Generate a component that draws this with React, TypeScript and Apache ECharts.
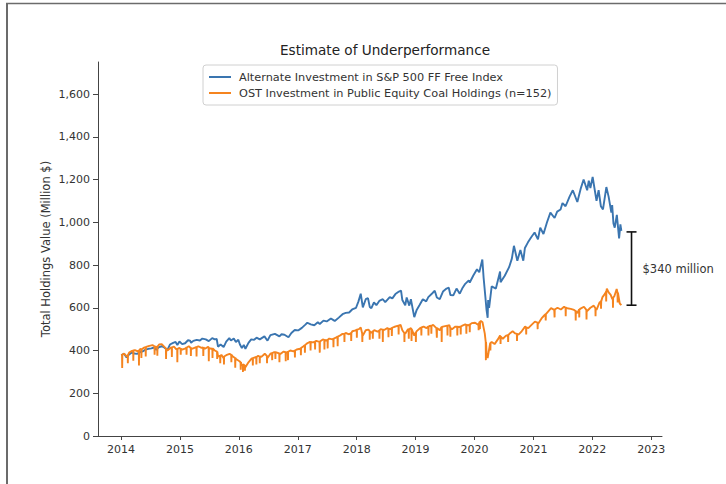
import React, { useEffect, useRef } from "react";
import * as echarts from "echarts";

const chartTitle = "Estimate of Underperformance";
const yAxisTitle = "Total Holdings Value (Million $)";
const altName = "Alternate Investment in S&P 500 FF Free Index";
const ostName = "OST Investment in Public Equity Coal Holdings (n=152)";
const yTickValues = [0, 200, 400, 600, 800, 1000, 1200, 1400, 1600];
const xTickYears = [2014, 2015, 2016, 2017, 2018, 2019, 2020, 2021, 2022, 2023];
const gapLabel = "$340 million";
const gapBar: [string, number, number] = ["2022-09-01", 612, 955];

const altSeries: [string, number][] = [
  ["2014-01-02", 378], ["2014-01-20", 385], ["2014-02-04", 368], ["2014-02-20", 382],
  ["2014-03-07", 390], ["2014-03-25", 386], ["2014-04-10", 384], ["2014-04-28", 392],
  ["2014-05-15", 396], ["2014-06-02", 404], ["2014-06-20", 408], ["2014-07-08", 410],
  ["2014-07-24", 414], ["2014-08-07", 403], ["2014-08-22", 415], ["2014-09-10", 420],
  ["2014-09-22", 416], ["2014-10-15", 402], ["2014-10-31", 428], ["2014-11-20", 436],
  ["2014-12-05", 440], ["2014-12-16", 426], ["2014-12-29", 442], ["2015-01-15", 430],
  ["2015-02-02", 434], ["2015-02-20", 448], ["2015-03-05", 446], ["2015-03-11", 436],
  ["2015-03-25", 445], ["2015-04-15", 450], ["2015-05-05", 447], ["2015-05-20", 456],
  ["2015-06-10", 452], ["2015-06-29", 444], ["2015-07-20", 458], ["2015-08-05", 452],
  ["2015-08-17", 454], ["2015-08-25", 418], ["2015-09-10", 428], ["2015-09-29", 416],
  ["2015-10-15", 442], ["2015-11-03", 458], ["2015-11-13", 447], ["2015-12-01", 456],
  ["2015-12-14", 440], ["2015-12-29", 450], ["2016-01-08", 428], ["2016-01-20", 412],
  ["2016-02-01", 426], ["2016-02-11", 408], ["2016-03-01", 436], ["2016-03-18", 452],
  ["2016-04-05", 450], ["2016-04-20", 460], ["2016-05-10", 452], ["2016-06-08", 466],
  ["2016-06-27", 446], ["2016-07-15", 472], ["2016-08-12", 478], ["2016-09-09", 466],
  ["2016-09-22", 476], ["2016-10-10", 474], ["2016-11-04", 462], ["2016-11-22", 482],
  ["2016-12-13", 496], ["2017-01-03", 494], ["2017-01-26", 506], ["2017-02-15", 520],
  ["2017-03-01", 530], ["2017-03-22", 522], ["2017-04-13", 518], ["2017-05-05", 532],
  ["2017-05-17", 524], ["2017-06-09", 540], ["2017-06-29", 536], ["2017-07-25", 550],
  ["2017-08-10", 542], ["2017-08-18", 538], ["2017-09-12", 554], ["2017-10-05", 570],
  ["2017-10-25", 576], ["2017-11-15", 578], ["2017-12-04", 592], ["2017-12-28", 600],
  ["2018-01-12", 630], ["2018-01-26", 666], ["2018-02-08", 602], ["2018-02-26", 640],
  ["2018-03-12", 645], ["2018-03-23", 604], ["2018-04-02", 598], ["2018-04-18", 625],
  ["2018-05-03", 612], ["2018-05-21", 632], ["2018-06-12", 640], ["2018-06-27", 626],
  ["2018-07-25", 650], ["2018-08-10", 644], ["2018-08-29", 664], ["2018-09-20", 676],
  ["2018-10-03", 680], ["2018-10-11", 636], ["2018-10-29", 612], ["2018-11-07", 648],
  ["2018-11-23", 610], ["2018-12-03", 640], ["2018-12-24", 556], ["2019-01-08", 590],
  ["2019-01-25", 612], ["2019-02-15", 640], ["2019-03-08", 630], ["2019-03-21", 650],
  ["2019-04-15", 668], ["2019-04-30", 680], ["2019-05-13", 648], ["2019-05-31", 640],
  ["2019-06-20", 676], ["2019-07-12", 690], ["2019-07-26", 694], ["2019-08-05", 660],
  ["2019-08-23", 658], ["2019-09-12", 690], ["2019-10-02", 666], ["2019-10-17", 690],
  ["2019-11-05", 712], ["2019-11-27", 728], ["2019-12-03", 718], ["2019-12-26", 752],
  ["2020-01-17", 780], ["2020-01-31", 766], ["2020-02-19", 826], ["2020-02-27", 740],
  ["2020-03-09", 650], ["2020-03-16", 590], ["2020-03-23", 553], ["2020-03-26", 636],
  ["2020-04-01", 600], ["2020-04-17", 700], ["2020-05-13", 690], ["2020-06-08", 770],
  ["2020-06-11", 720], ["2020-07-07", 750], ["2020-08-03", 790], ["2020-08-20", 830],
  ["2020-09-02", 890], ["2020-09-23", 820], ["2020-10-12", 870], ["2020-10-30", 820],
  ["2020-11-09", 880], ["2020-11-27", 905], ["2020-12-18", 930], ["2021-01-08", 952],
  ["2021-01-29", 920], ["2021-02-12", 975], ["2021-03-04", 945], ["2021-03-26", 1000],
  ["2021-04-16", 1045], ["2021-05-12", 1020], ["2021-05-28", 1050], ["2021-06-18", 1060],
  ["2021-06-30", 1090], ["2021-07-19", 1075], ["2021-08-13", 1120], ["2021-09-02", 1150],
  ["2021-09-30", 1095], ["2021-10-22", 1160], ["2021-11-08", 1200], ["2021-11-30", 1150],
  ["2021-12-10", 1195], ["2021-12-20", 1160], ["2022-01-03", 1212], ["2022-01-27", 1100],
  ["2022-02-09", 1150], ["2022-02-23", 1075], ["2022-03-08", 1060], ["2022-03-29", 1165],
  ["2022-04-12", 1120], ["2022-04-29", 1045], ["2022-05-04", 1080], ["2022-05-12", 995],
  ["2022-05-20", 975], ["2022-06-02", 1035], ["2022-06-16", 925], ["2022-06-24", 990],
  ["2022-06-30", 960],
];

const ostBase: [string, number][] = [
  ["2014-01-02", 378], ["2014-01-20", 386], ["2014-02-04", 372], ["2014-02-20", 390],
  ["2014-03-10", 398], ["2014-03-28", 402], ["2014-04-15", 396], ["2014-05-01", 408],
  ["2014-05-20", 412], ["2014-06-10", 418], ["2014-06-25", 422], ["2014-07-15", 425],
  ["2014-08-05", 415], ["2014-08-25", 428], ["2014-09-10", 430], ["2014-09-25", 418],
  ["2014-10-15", 400], ["2014-11-03", 412], ["2014-11-25", 418], ["2014-12-10", 405],
  ["2014-12-29", 412], ["2015-01-15", 404], ["2015-02-05", 410], ["2015-02-25", 420],
  ["2015-03-15", 408], ["2015-04-05", 414], ["2015-04-25", 420], ["2015-05-15", 412],
  ["2015-06-05", 408], ["2015-06-25", 418], ["2015-07-15", 408], ["2015-08-05", 400],
  ["2015-08-25", 372], ["2015-09-15", 380], ["2015-09-29", 364], ["2015-10-15", 378],
  ["2015-11-05", 384], ["2015-11-25", 372], ["2015-12-15", 360], ["2016-01-05", 350],
  ["2016-01-20", 330], ["2016-02-11", 322], ["2016-03-01", 345], ["2016-03-20", 362],
  ["2016-04-10", 368], ["2016-04-30", 375], ["2016-05-20", 370], ["2016-06-10", 385],
  ["2016-06-27", 365], ["2016-07-15", 385], ["2016-08-05", 392], ["2016-08-25", 390],
  ["2016-09-15", 384], ["2016-10-05", 395], ["2016-10-25", 390], ["2016-11-15", 400],
  ["2016-12-05", 396], ["2016-12-25", 405], ["2017-01-15", 408], ["2017-02-05", 420],
  ["2017-02-25", 432], ["2017-03-15", 440], ["2017-04-05", 438], ["2017-04-25", 445],
  ["2017-05-15", 440], ["2017-06-05", 452], ["2017-06-25", 446], ["2017-07-15", 456],
  ["2017-08-05", 452], ["2017-08-25", 460], ["2017-09-15", 468], ["2017-10-05", 478],
  ["2017-10-25", 482], ["2017-11-15", 476], ["2017-12-05", 490], ["2017-12-25", 494],
  ["2018-01-15", 500], ["2018-01-26", 508], ["2018-02-08", 470], ["2018-02-26", 495],
  ["2018-03-15", 498], ["2018-04-02", 482], ["2018-04-20", 495], ["2018-05-10", 488],
  ["2018-05-30", 500], ["2018-06-20", 496], ["2018-07-10", 505], ["2018-07-30", 500],
  ["2018-08-20", 510], ["2018-09-10", 515], ["2018-09-30", 520], ["2018-10-11", 495],
  ["2018-10-29", 478], ["2018-11-15", 500], ["2018-12-03", 505], ["2018-12-24", 470],
  ["2019-01-10", 492], ["2019-01-30", 505], ["2019-02-20", 512], ["2019-03-10", 505],
  ["2019-03-30", 515], ["2019-04-20", 520], ["2019-05-10", 505], ["2019-05-31", 495],
  ["2019-06-20", 512], ["2019-07-10", 515], ["2019-07-30", 518], ["2019-08-15", 500],
  ["2019-09-05", 512], ["2019-09-25", 510], ["2019-10-15", 515], ["2019-11-05", 522],
  ["2019-11-25", 518], ["2019-12-15", 528], ["2020-01-05", 530], ["2020-01-25", 520],
  ["2020-02-10", 538], ["2020-02-20", 532], ["2020-03-05", 480], ["2020-03-16", 390],
  ["2020-03-23", 365], ["2020-04-01", 405], ["2020-04-17", 440], ["2020-05-05", 430],
  ["2020-05-25", 452], ["2020-06-08", 470], ["2020-06-25", 455], ["2020-07-15", 470],
  ["2020-08-05", 478], ["2020-08-25", 490], ["2020-09-10", 480], ["2020-09-30", 474],
  ["2020-10-20", 490], ["2020-11-10", 512], ["2020-11-30", 505], ["2020-12-20", 520],
  ["2021-01-10", 535], ["2021-01-30", 525], ["2021-02-20", 550], ["2021-03-10", 565],
  ["2021-03-30", 580], ["2021-04-20", 598], ["2021-05-10", 590], ["2021-05-30", 600],
  ["2021-06-20", 592], ["2021-07-10", 605], ["2021-07-30", 598], ["2021-08-20", 595],
  ["2021-09-10", 590], ["2021-09-30", 575], ["2021-10-20", 596], ["2021-11-10", 605],
  ["2021-11-30", 585], ["2021-12-20", 600], ["2022-01-10", 610], ["2022-01-27", 590],
  ["2022-02-15", 625], ["2022-03-05", 650], ["2022-03-20", 665], ["2022-04-01", 690],
  ["2022-04-12", 672], ["2022-04-25", 660], ["2022-05-05", 640], ["2022-05-18", 655],
  ["2022-06-01", 688], ["2022-06-10", 665], ["2022-06-20", 620], ["2022-06-30", 612],
];

// single-day drops: [date, level around it, low of the drop]
const ostDips: [string, number, number][] = [
  ["2014-01-08", 380, 318], ["2014-02-12", 378, 340], ["2014-03-18", 400, 352],
  ["2014-04-22", 400, 330], ["2014-05-07", 405, 365], ["2014-06-03", 416, 372],
  ["2014-07-28", 420, 380], ["2014-08-14", 418, 375], ["2014-10-07", 410, 360],
  ["2014-11-12", 415, 370], ["2014-12-16", 408, 345], ["2015-01-06", 408, 380],
  ["2015-02-11", 414, 380], ["2015-03-10", 412, 375], ["2015-04-14", 416, 372],
  ["2015-05-26", 414, 375], ["2015-06-29", 412, 350], ["2015-07-22", 410, 365],
  ["2015-08-20", 395, 360], ["2015-09-08", 375, 340], ["2015-10-01", 372, 335],
  ["2015-11-16", 380, 345], ["2015-12-10", 365, 320], ["2016-01-13", 345, 310],
  ["2016-01-27", 335, 300], ["2016-02-08", 330, 305], ["2016-03-28", 364, 330],
  ["2016-04-19", 370, 335], ["2016-05-10", 372, 340], ["2016-06-24", 375, 340],
  ["2016-07-26", 388, 355], ["2016-08-15", 392, 360], ["2016-09-09", 386, 345],
  ["2016-10-18", 392, 350], ["2016-11-01", 394, 355], ["2016-12-14", 400, 368],
  ["2017-01-20", 412, 378], ["2017-02-14", 425, 390], ["2017-03-21", 440, 400],
  ["2017-04-18", 442, 405], ["2017-05-17", 442, 390], ["2017-06-15", 450, 405],
  ["2017-07-05", 450, 410], ["2017-08-10", 456, 415], ["2017-09-05", 465, 420],
  ["2017-10-17", 478, 440], ["2017-11-28", 482, 445], ["2018-01-02", 498, 460],
  ["2018-02-05", 480, 440], ["2018-03-23", 490, 450], ["2018-04-11", 490, 455],
  ["2018-05-22", 494, 455], ["2018-06-12", 498, 440], ["2018-07-17", 502, 462],
  ["2018-08-07", 506, 468], ["2018-09-18", 516, 475], ["2018-10-24", 482, 440],
  ["2018-11-20", 498, 455], ["2018-12-07", 500, 445], ["2019-01-03", 485, 440],
  ["2019-02-06", 508, 470], ["2019-03-22", 512, 470], ["2019-04-09", 516, 478],
  ["2019-05-13", 505, 460], ["2019-06-12", 510, 440], ["2019-07-18", 516, 470],
  ["2019-08-05", 505, 465], ["2019-09-17", 511, 470], ["2019-10-08", 512, 475],
  ["2019-11-12", 520, 478], ["2019-12-03", 522, 485], ["2020-01-27", 525, 495],
  ["2020-02-04", 535, 500], ["2020-03-12", 440, 355], ["2020-04-09", 435, 400],
  ["2020-06-11", 465, 430], ["2020-07-28", 472, 440], ["2020-09-21", 478, 445],
  ["2020-11-17", 508, 475], ["2021-01-27", 530, 500], ["2021-03-18", 570, 540],
  ["2021-05-12", 592, 555], ["2021-07-20", 600, 560], ["2021-09-20", 585, 540],
  ["2021-10-12", 592, 555], ["2021-11-26", 590, 545], ["2022-01-21", 598, 560],
  ["2022-02-24", 630, 595], ["2022-03-28", 675, 630], ["2022-05-09", 648, 600],
  ["2022-06-07", 670, 625],
];

const DAY = 86400000;
const ts = (d: string) => Date.parse(d + "T00:00:00Z");

function buildOst(): [number, number][] {
  const pts: [number, number][] = ostBase.map(([d, v]) => [ts(d), v]);
  ostDips.forEach(([d, base, low]) => {
    const t = ts(d);
    pts.push([t - DAY, base], [t, low], [t + DAY, base]);
  });
  pts.sort((a, b) => a[0] - b[0]);
  return pts;
}

const FONT = "DejaVu Sans";

export default function App() {
  const ref = useRef<HTMLDivElement>(null);
  useEffect(() => {
    if (!ref.current) return;
    const chart = echarts.init(ref.current, null, { renderer: "svg" });
    const altData = altSeries.map(([d, v]) => [ts(d), v]);
    const ostData = buildOst();
    const yearTicks = xTickYears.map((y) => Date.UTC(y, 0, 1));
    chart.setOption({
      animation: false,
      backgroundColor: "#fff",
      title: {
        text: chartTitle,
        left: 380,
        top: 38,
        textAlign: "center",
        textStyle: { fontFamily: FONT, fontSize: 13.6, fontWeight: "normal", color: "#222" },
      },
      legend: {
        data: [altName, ostName],
        orient: "vertical",
        left: 203,
        top: 65,
        padding: [5, 6, 5, 6],
        itemGap: 2,
        itemWidth: 22,
        itemHeight: 2,
        icon: "rect",
        borderColor: "#d0d0d0",
        borderWidth: 1,
        borderRadius: 3,
        backgroundColor: "#fff",
        textStyle: { fontFamily: FONT, fontSize: 11.3, color: "#333", lineHeight: 14, padding: [0, 0, 0, 3] },
      },
      grid: { left: 98, right: 64, top: 62, bottom: 48 },
      xAxis: {
        type: "value",
        min: Date.UTC(2013, 7, 11),
        max: Date.UTC(2023, 2, 9),
        scale: true,
        splitLine: { show: false },
        axisLine: { show: true, lineStyle: { color: "#444", width: 1 } },
        axisTick: {
          show: true,
          length: 4,
          lineStyle: { color: "#444" },
          customValues: yearTicks,
        },
        axisLabel: {
          customValues: yearTicks,
          formatter: (v: number) => String(new Date(v).getUTCFullYear()),
          fontFamily: FONT,
          fontSize: 11,
          color: "#333",
          margin: 8,
        },
      },
      yAxis: {
        type: "value",
        min: 0,
        max: 1750,
        name: yAxisTitle,
        nameLocation: "middle",
        nameGap: 46,
        nameMoveOverlap: false,
        nameTextStyle: { fontFamily: FONT, fontSize: 11.5, color: "#333" },
        splitLine: { show: false },
        axisLine: { show: true, lineStyle: { color: "#444", width: 1 } },
        axisTick: { show: true, length: 5, lineStyle: { color: "#444" }, customValues: yTickValues },
        axisLabel: {
          customValues: yTickValues,
          formatter: (v: number) => v.toLocaleString("en-US"),
          fontFamily: FONT,
          fontSize: 11,
          color: "#333",
          margin: 8,
        },
      },
      series: [
        {
          name: altName,
          type: "line",
          data: altData,
          showSymbol: false,
          symbol: "none",
          lineStyle: { color: "#3a75b0", width: 1.9 },
          itemStyle: { color: "#3a75b0" },
          z: 2,
        },
        {
          name: ostName,
          type: "line",
          data: ostData,
          showSymbol: false,
          symbol: "none",
          lineStyle: { color: "#f5841f", width: 1.9 },
          itemStyle: { color: "#f5841f" },
          z: 3,
        },
        {
          type: "custom",
          data: [[ts(gapBar[0]), gapBar[1], gapBar[2]]],
          encode: { x: 0, y: [1, 2] },
          z: 5,
          renderItem: (_p: any, api: any) => {
            const t = api.value(0);
            const top = api.coord([t, api.value(2)]);
            const bot = api.coord([t, api.value(1)]);
            const hw = 5;
            const st = { stroke: "#111", lineWidth: 1.6 };
            return {
              type: "group",
              children: [
                { type: "line", shape: { x1: top[0], y1: top[1], x2: bot[0], y2: bot[1] }, style: st },
                { type: "line", shape: { x1: top[0] - hw, y1: top[1], x2: top[0] + hw, y2: top[1] }, style: st },
                { type: "line", shape: { x1: bot[0] - hw, y1: bot[1], x2: bot[0] + hw, y2: bot[1] }, style: st },
                {
                  type: "text",
                  x: top[0] + 11,
                  y: (top[1] + bot[1]) / 2,
                  style: {
                    text: gapLabel,
                    fill: "#333",
                    font: `11.5px "${FONT}"`,
                    verticalAlign: "middle",
                    align: "left",
                  },
                },
              ],
            };
          },
        },
      ],
      graphic: [
        { type: "line", shape: { x1: 6, y1: 3.5, x2: 726, y2: 3.5 }, style: { stroke: "#6b6b6b", lineWidth: 1.5 } },
        { type: "line", shape: { x1: 7, y1: 3, x2: 7, y2: 484 }, style: { stroke: "#6b6b6b", lineWidth: 2 } },
      ],
    });
    return () => chart.dispose();
  }, []);
  return (
    <div
      ref={ref}
      style={{ position: "fixed", left: 0, top: 0, width: 726, height: 484, background: "#fff" }}
    />
  );
}
